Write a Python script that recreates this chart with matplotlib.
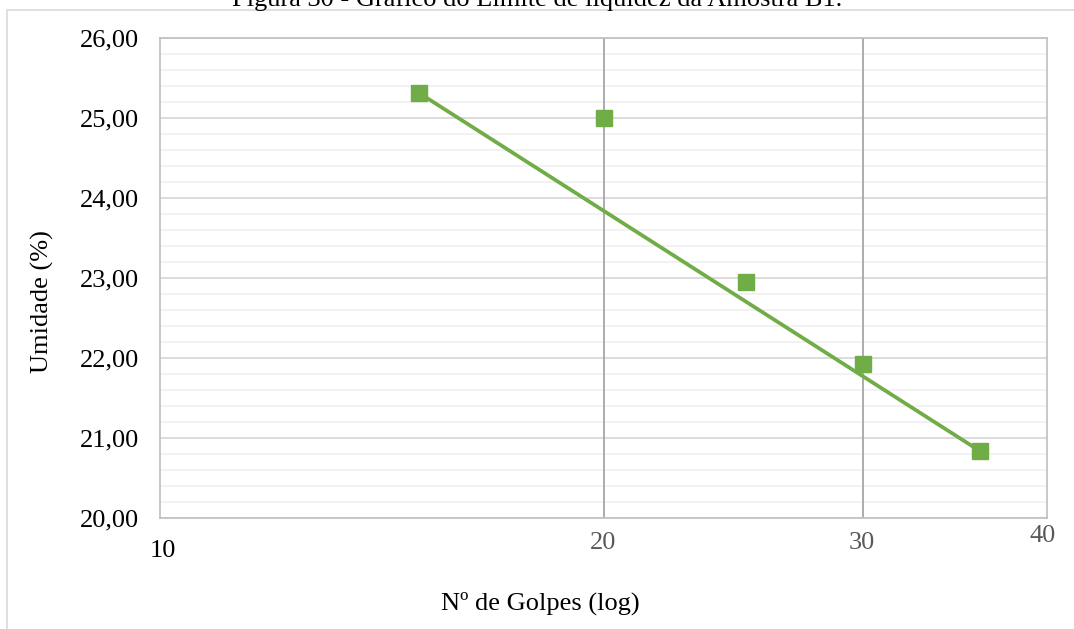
import matplotlib.pyplot as plt
from matplotlib.patches import Rectangle
import matplotlib.transforms as mtransforms

golpes = [15, 20, 25, 30, 36]
umidade = [25.31, 25.00, 22.95, 21.93, 20.84]

# reta ligando o primeiro e o ultimo ponto
reta_x = [golpes[0], golpes[-1]]
reta_y = [umidade[0], umidade[-1]]

xticks = [10, 20, 30, 40]
xtick_labels = ["10", "20", "30", "40"]
yticks = [20, 21, 22, 23, 24, 25, 26]

plt.rcParams['font.family'] = ['Liberation Serif', 'DejaVu Serif']

fig = plt.figure(figsize=(10.74, 6.29), dpi=100)
ax = fig.add_axes([160 / 1074, 1 - 518 / 629, 887 / 1074, 480 / 629])

# moldura do grafico
fig.patches.append(Rectangle((7 / 1074, -0.1), 1.2, 1 - 10 / 629 + 0.1,
                             transform=fig.transFigure, fill=False,
                             edgecolor='#d9d9d9', linewidth=1.2))

ax.set_xscale('log')
ax.set_xlim(10, 40)
ax.set_ylim(20, 26)

# grade (principal a cada 1, secundaria a cada 0,2)
for v in range(200, 261, 2):
    y = v / 10
    if v % 10 == 0:
        ax.axhline(y, color='#d9d9d9', linewidth=1.3, zorder=0)
    else:
        ax.axhline(y, color='#efefef', linewidth=1.1, zorder=0)
for xv in [20, 30]:
    ax.axvline(xv, color='#a6a6a6', linewidth=1.3, zorder=1)

ax.plot(reta_x, reta_y, '-', color='#70ad47', linewidth=2.7, zorder=3)
ax.plot(golpes, umidade, 's', color='#70ad47', markersize=11, zorder=4)

for s in ax.spines.values():
    s.set_color('#bfbfbf')
    s.set_linewidth(1.2)

ax.set_yticks(yticks)
ax.set_yticklabels([("%.2f" % v).replace('.', ',') for v in yticks], fontsize=19)
ax.tick_params(axis='y', length=0, pad=15)
ax.set_xticks([])
ax.xaxis.set_minor_locator(plt.NullLocator())

# rotulos do eixo x em alturas diferentes, como no original
trans = mtransforms.blended_transform_factory(ax.transData, fig.transFigure)
label_y = [551, 543, 543, 536]
label_col = ['black', '#595959', '#595959', '#595959']
label_dx = [3, 0, -1, -4]
for xv, lab, py, c, dx in zip(xticks, xtick_labels, label_y, label_col, label_dx):
    ax.text(xv, 1 - py / 629, lab,
            transform=trans + mtransforms.ScaledTranslation(dx / 100, 0, fig.dpi_scale_trans),
            ha='center', va='center', fontsize=19, color=c, clip_on=False)

fig.text(540 / 1074, 1 - 603 / 629, "Nº de Golpes (log)", ha='center', va='center', fontsize=19)
fig.text(42 / 1074, 1 - 302 / 629, "Umidade (%)", ha='center', va='center', rotation=90, fontsize=19)
fig.text(537 / 1074, 1 - 6 / 629, "Figura 30 - Gráfico do Limite de liquidez da Amostra B1.",
         ha='center', va='baseline', fontsize=19)

fig.savefig("out.png", dpi=100)
